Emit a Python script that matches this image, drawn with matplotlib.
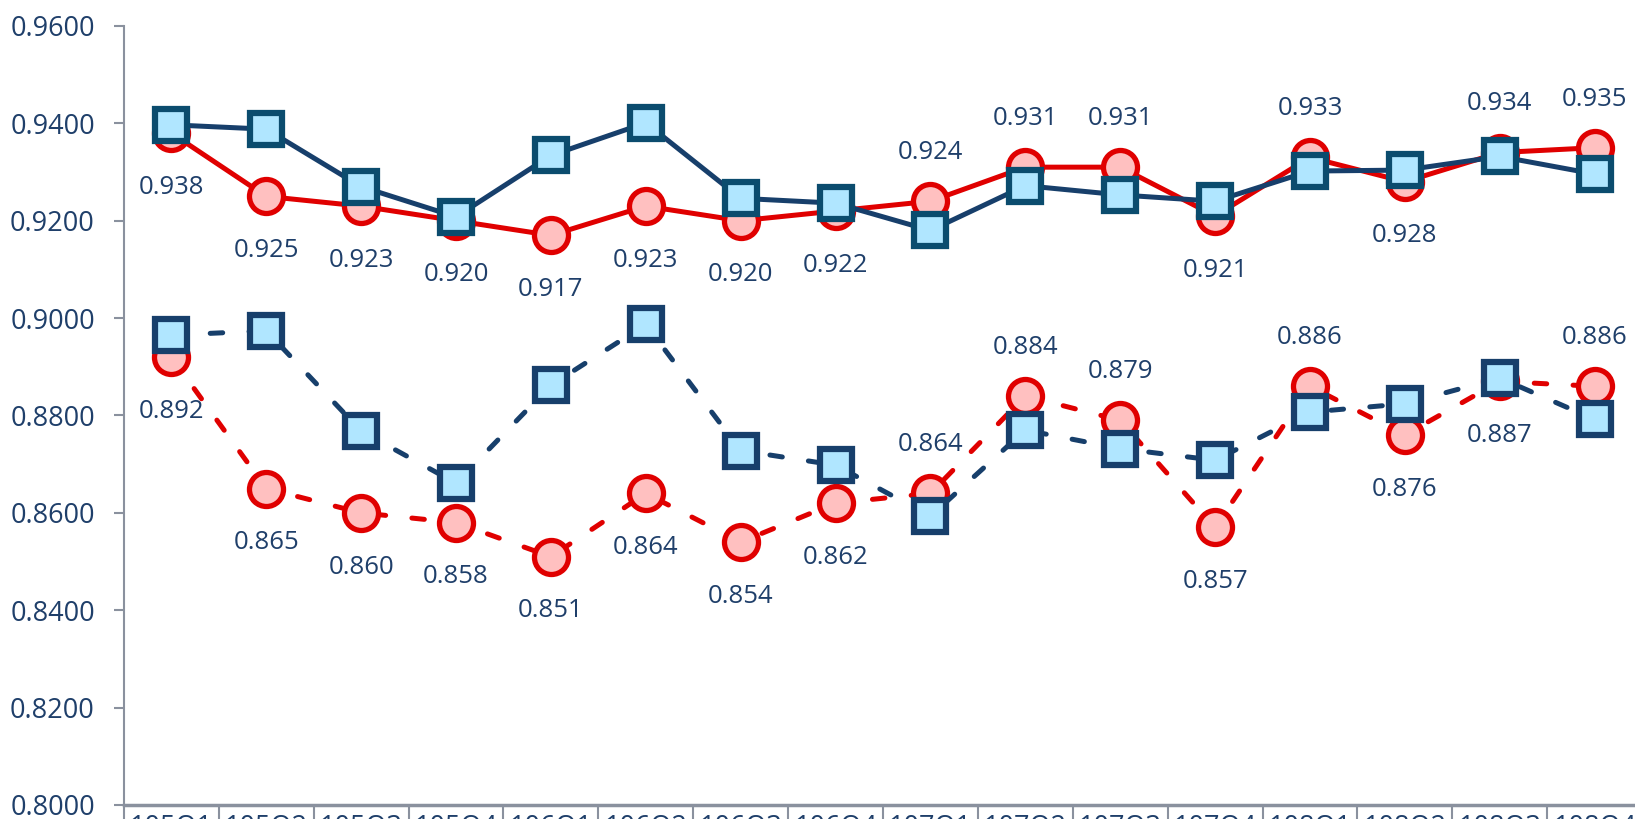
import matplotlib
matplotlib.use("Agg")
import matplotlib.pyplot as plt
import numpy as np

plt.rcParams['font.family'] = ['Open Sans', 'DejaVu Sans']
plt.rcParams['lines.scale_dashes'] = False

categories = ["105Q1", "105Q2", "105Q3", "105Q4", "106Q1", "106Q2", "106Q3", "106Q4",
              "107Q1", "107Q2", "107Q3", "107Q4", "108Q1", "108Q2", "108Q3", "108Q4"]

red_upper = [0.938, 0.925, 0.923, 0.920, 0.917, 0.923, 0.920, 0.922,
             0.924, 0.931, 0.931, 0.921, 0.933, 0.928, 0.934, 0.935]
blue_upper = [0.9397, 0.9388, 0.9270, 0.9208, 0.9334, 0.9401, 0.9246, 0.9236,
              0.9180, 0.9272, 0.9253, 0.9240, 0.9302, 0.9304, 0.9332, 0.9296]
red_lower = [0.892, 0.865, 0.860, 0.858, 0.851, 0.864, 0.854, 0.862,
             0.864, 0.884, 0.879, 0.857, 0.886, 0.876, 0.887, 0.886]
blue_lower = [0.8965, 0.8974, 0.8768, 0.8661, 0.8862, 0.8987, 0.8728, 0.8698,
              0.8593, 0.8770, 0.8732, 0.8708, 0.8807, 0.8824, 0.8877, 0.8792]

# label placement: True = above, False = below
upper_above = [False, False, False, False, False, False, False, False,
               True, True, True, False, True, False, True, True]
lower_above = [False, False, False, False, False, False, False, False,
               True, True, True, False, True, False, False, True]

RED = "#E00000"
PINK = "#FFC0C0"
NAVY = "#173F6B"
TEAL_NAVY = "#0B4C6E"
LIGHTBLUE = "#B0E6FF"
TEXT = "#1F3F6A"
GREY = "#8A919E"

fig = plt.figure(figsize=(16.35, 8.19), dpi=100)
ax = fig.add_axes([0.0758, 0.0171, 0.9285, 0.9512])
x = np.arange(len(categories))

lw = 3.6
dash = (0, (9, 19))
c_ms, c_mew = 24.5, 3.8
s_ms, s_mew = 23, 4.5

ax.plot(x, red_upper, color=RED, lw=lw, marker='o', ms=c_ms, mfc=PINK, mec=RED, mew=c_mew,
        solid_capstyle='round', zorder=3)
ax.plot(x, blue_upper, color=NAVY, lw=lw, marker='s', ms=s_ms, mfc=LIGHTBLUE, mec=TEAL_NAVY,
        mew=s_mew, solid_capstyle='round', zorder=4)
ax.plot(x, red_lower, color=RED, lw=lw, ls=dash, marker='o', ms=c_ms, mfc=PINK, mec=RED, mew=c_mew,
        dash_capstyle='round', zorder=3)
ax.plot(x, blue_lower, color=NAVY, lw=lw, ls=dash, marker='s', ms=s_ms, mfc=LIGHTBLUE, mec=NAVY,
        mew=s_mew, dash_capstyle='round', zorder=4)

for xi, v, up in zip(x, red_upper, upper_above):
    ax.annotate(f"{v:.3f}", (xi, v), xytext=(0, 35 if up else -39), textcoords='offset points',
                ha='center', va='center', fontsize=18.5, color=TEXT, zorder=5)
for xi, v, up in zip(x, red_lower, lower_above):
    ax.annotate(f"{v:.3f}", (xi, v), xytext=(0, 35 if up else -39), textcoords='offset points',
                ha='center', va='center', fontsize=18.5, color=TEXT, zorder=5)

ax.set_xlim(-0.5, len(categories) - 0.5)
ax.set_ylim(0.80, 0.96)
ax.set_yticks(np.arange(0.80, 0.9601, 0.02))
ax.yaxis.set_major_formatter(matplotlib.ticker.FormatStrFormatter('%.4f'))
ax.set_xticks(x)
ax.set_xticklabels(categories)
ax.set_xticks(np.arange(-0.5, len(categories), 1.0), minor=True)

ax.tick_params(axis='y', which='major', length=7, width=1.5, color=GREY, labelsize=19.5,
               labelcolor=TEXT, pad=14)
ax.tick_params(axis='x', which='major', length=0, labelsize=19.5, labelcolor=TEXT, pad=6)
ax.tick_params(axis='x', which='minor', length=16, width=1.5, color=GREY)

for s in ['top', 'right']:
    ax.spines[s].set_visible(False)
ax.spines['left'].set_color(GREY)
ax.spines['left'].set_linewidth(1.5)
ax.spines['bottom'].set_color(GREY)
ax.spines['bottom'].set_linewidth(2.5)

fig.savefig("out.png", dpi=100)
